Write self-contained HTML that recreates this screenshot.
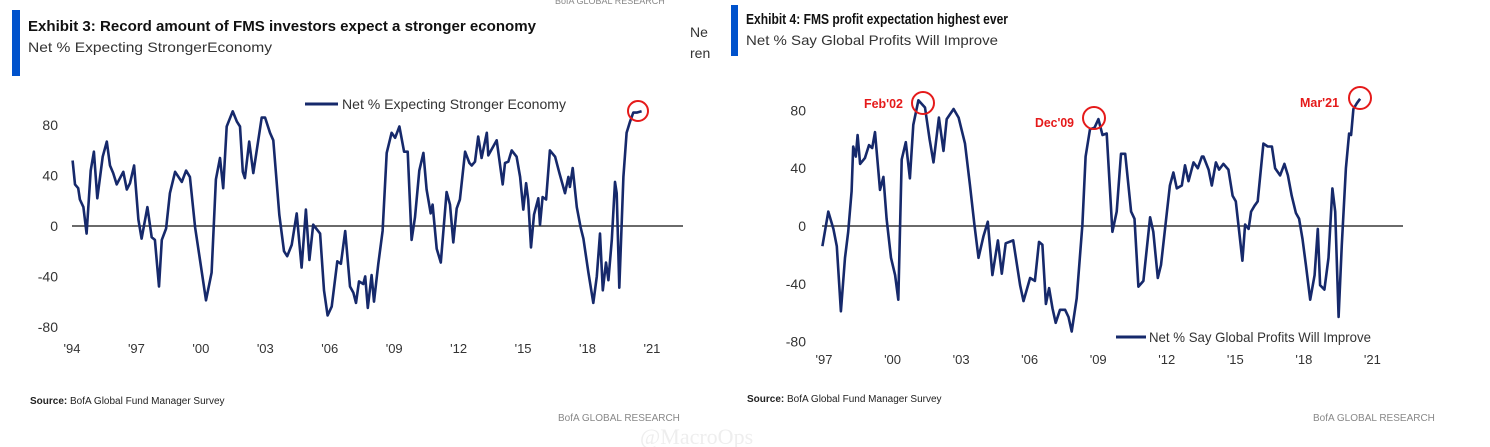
<!DOCTYPE html>
<html><head><meta charset="utf-8">
<style>
html,body{margin:0;padding:0;background:#fff;}
svg{display:block;font-family:"Liberation Sans Narrow","Liberation Sans",sans-serif;}
</style></head>
<body>
<svg id="root" width="1490" height="447" viewBox="0 0 1490 447" xmlns="http://www.w3.org/2000/svg">
  <text x="555" y="4" font-size="9" fill="#888">BofA GLOBAL RESEARCH</text>
  <rect x="12" y="10" width="8" height="66" fill="#0052cc"/>
  <text x="28" y="31" font-size="15" font-weight="bold" fill="#111" textLength="508" lengthAdjust="spacingAndGlyphs">Exhibit 3: Record amount of FMS investors expect a stronger economy</text>
  <text x="28" y="52" font-size="14" fill="#333" textLength="244" lengthAdjust="spacingAndGlyphs">Net % Expecting StrongerEconomy</text>
  <text x="690" y="37" font-size="14" fill="#333">Ne</text>
  <text x="690" y="58" font-size="14" fill="#333">ren</text>
  <rect x="731" y="5" width="7" height="51" fill="#0052cc"/>
  <text x="746" y="24" font-size="15" font-weight="bold" fill="#111" textLength="262" lengthAdjust="spacingAndGlyphs">Exhibit 4: FMS profit expectation highest ever</text>
  <text x="746" y="45" font-size="14" fill="#333" textLength="252" lengthAdjust="spacingAndGlyphs">Net % Say Global Profits Will Improve</text>

  <g id="leftChart"></g>
  <g id="rightChart"></g>

  <text x="30" y="404" font-size="10" fill="#222"><tspan font-weight="bold">Source:</tspan>  BofA Global Fund Manager Survey</text>
  <text x="558" y="421" font-size="10" fill="#888">BofA GLOBAL RESEARCH</text>
  <text x="747" y="402" font-size="10" fill="#222"><tspan font-weight="bold">Source:</tspan>  BofA Global Fund Manager Survey</text>
  <text x="1313" y="421" font-size="10" fill="#888">BofA GLOBAL RESEARCH</text>
  <text x="640" y="444" font-size="22" fill="#eee" font-family="Liberation Serif,serif">@MacroOps</text>
</svg>
<script>
const leftDates=[1994.03,1994.14,1994.29,1994.37,1994.53,1994.68,1994.87,1995.02,1995.18,1995.43,1995.62,1995.77,1995.92,1996.08,1996.39,1996.55,1996.70,1996.89,1997.09,1997.24,1997.51,1997.71,1997.86,1998.05,1998.18,1998.38,1998.56,1998.80,1999.11,1999.31,1999.49,1999.73,1999.96,2000.24,2000.50,2000.70,2000.89,2001.04,2001.20,2001.48,2001.67,2001.82,2001.95,2002.05,2002.25,2002.44,2002.83,2002.99,2003.22,2003.37,2003.65,2003.87,2004.02,2004.23,2004.46,2004.69,2004.89,2005.05,2005.23,2005.55,2005.73,2005.90,2006.09,2006.35,2006.52,2006.72,2006.94,2007.10,2007.22,2007.36,2007.56,2007.65,2007.77,2007.95,2008.06,2008.26,2008.46,2008.65,2008.88,2009.04,2009.24,2009.46,2009.63,2009.81,2009.97,2010.17,2010.36,2010.51,2010.70,2010.79,2010.98,2011.17,2011.44,2011.60,2011.75,2011.91,2012.06,2012.30,2012.50,2012.61,2012.76,2012.91,2013.07,2013.31,2013.38,2013.77,2014.05,2014.16,2014.31,2014.47,2014.70,2014.86,2015.01,2015.14,2015.24,2015.37,2015.51,2015.71,2015.79,2015.91,2016.07,2016.25,2016.49,2016.69,2016.95,2017.11,2017.18,2017.31,2017.50,2017.68,2017.81,2018.04,2018.27,2018.43,2018.58,2018.71,2018.86,2018.97,2019.13,2019.28,2019.36,2019.48,2019.67,2019.82,2019.98,2020.13,2020.29,2020.52];
const leftValues=[52,33,30,21,15,-6,44,59,22,55,67,48,42,33,43,29,34,48,5,-10,15,-9,-11,-48,-11,-2,26,43,35,44,39,-1,-27,-59,-37,37,54,30,79,91,83,79,43,38,67,42,86,86,74,68,9,-20,-24,-15,10,-33,13,-27,1,-6,-51,-71,-64,-28,-30,-4,-48,-53,-61,-44,-46,-40,-65,-39,-60,-30,-4,58,74,70,79,59,59,-11,7,44,58,29,10,17,-18,-29,27,17,-13,14,21,59,50,48,51,71,54,74,56,68,33,50,51,60,55,39,13,34,21,-17,9,22,1,23,21,60,55,42,26,39,31,46,15,-1,-10,-37,-61,-40,-6,-51,-29,-43,-11,35,26,-49,39,74,83,90,90,91];
const leftTicksY=[80,40,0,-40,-80];
const leftTicksX=["'94","'97","'00","'03","'06","'09","'12","'15","'18","'21"];
const leftTickYears=[1994,1997,2000,2003,2006,2009,2012,2015,2018,2021];

const rightDates=[1996.93,1997.19,1997.41,1997.56,1997.74,1997.92,1998.06,1998.21,1998.28,1998.39,1998.47,1998.58,1998.79,1998.97,1999.11,1999.23,1999.45,1999.60,1999.74,1999.93,2000.11,2000.25,2000.40,2000.58,2000.76,2000.91,2001.13,2001.42,2001.62,2001.79,2002.03,2002.23,2002.37,2002.67,2002.89,2003.17,2003.39,2003.58,2003.76,2003.98,2004.17,2004.37,2004.61,2004.78,2004.95,2005.28,2005.58,2005.73,2006.02,2006.23,2006.41,2006.56,2006.71,2006.85,2007.00,2007.14,2007.33,2007.55,2007.70,2007.84,2008.06,2008.31,2008.45,2008.64,2008.84,2009.01,2009.19,2009.37,2009.62,2009.81,2010.00,2010.18,2010.44,2010.59,2010.76,2010.98,2011.27,2011.41,2011.61,2011.75,2012.00,2012.14,2012.29,2012.44,2012.66,2012.80,2012.95,2013.17,2013.36,2013.54,2013.61,2013.83,2013.97,2014.15,2014.29,2014.48,2014.70,2014.88,2015.02,2015.17,2015.31,2015.43,2015.58,2015.69,2015.84,2015.98,2016.23,2016.42,2016.60,2016.74,2016.96,2017.15,2017.30,2017.47,2017.65,2017.79,2017.94,2018.09,2018.28,2018.47,2018.61,2018.71,2018.90,2019.08,2019.25,2019.37,2019.52,2019.66,2019.84,2019.98,2020.07,2020.17,2020.32,2020.46];
const rightValues=[-14,10,-2,-14,-59,-22,-4,24,55,48,63,43,47,56,54,65,25,34,5,-22,-34,-51,46,58,33,70,87,82,60,44,75,52,74,81,75,57,28,1,-22,-7,3,-34,-10,-33,-12,-10,-41,-52,-36,-38,-11,-13,-54,-43,-57,-67,-58,-58,-63,-73,-50,1,48,67,68,74,63,64,-4,10,50,50,10,5,-42,-38,6,-4,-36,-27,9,28,37,26,28,42,31,44,40,48,48,39,28,44,39,43,39,21,17,-4,-24,1,-2,10,14,17,57,55,55,40,35,43,35,21,9,5,-9,-27,-51,-34,-2,-41,-44,-22,26,10,-63,-13,40,64,63,81,85,88];
const rightTicksY=[80,40,0,-40,-80];
const rightTicksX=["'97","'00","'03","'06","'09","'12","'15","'18","'21"];
const rightTickYears=[1997,2000,2003,2006,2009,2012,2015,2018,2021];

const NS="http://www.w3.org/2000/svg";
function mk(parent,tag,attrs,text){const e=document.createElementNS(NS,tag);for(const k in attrs)e.setAttribute(k,attrs[k]);if(text!==undefined)e.textContent=text;parent.appendChild(e);return e;}

function draw(g,cfg,dates,values,ticksY,ticksX,tickYears){
  const xs=y=>cfg.x0+(y-cfg.y0year)*cfg.pxYear;
  const ys=v=>cfg.zeroY-v*cfg.pxUnit;
  ticksY.forEach(v=>{
    const t=mk(g,'text',{x:cfg.yLabX,y:ys(v)+5,'font-size':14,fill:'#333','text-anchor':'end'},String(v));
    
    
  });
  ticksX.forEach((lab,i)=>{
    const t=mk(g,'text',{x:xs(tickYears[i]),y:cfg.xLabY,'font-size':13,fill:'#333','text-anchor':'middle'},lab);
    
    
  });
  const z=mk(g,'line',{x1:cfg.zx1,x2:cfg.zx2,y1:ys(0),y2:ys(0),stroke:'#111','stroke-width':1.2});
  
  
  const d=dates.map((t,i)=>(i?'L':'M')+xs(t).toFixed(1)+' '+ys(values[i]).toFixed(1)).join(' ');
  const p=mk(g,'path',{d:d,fill:'none',stroke:'#16296b','stroke-width':2.6,'stroke-linejoin':'round'});
  
  
}

const L=document.getElementById('leftChart');
draw(L,{x0:72,y0year:1994,pxYear:21.48,zeroY:226,pxUnit:1.26,yLabX:58,xLabY:353,zx1:72,zx2:683},leftDates,leftValues,leftTicksY,leftTicksX,leftTickYears);
let e;
e=mk(L,'line',{x1:305,x2:338,y1:104,y2:104,stroke:'#16296b','stroke-width':3});


e=mk(L,'text',{x:342,y:109,'font-size':14,fill:'#333',textLength:224,lengthAdjust:'spacingAndGlyphs'},'Net % Expecting Stronger Economy');


e=mk(L,'circle',{cx:638,cy:111,r:10,fill:'none',stroke:'#e51a1a','stroke-width':2});



const R=document.getElementById('rightChart');
draw(R,{x0:824,y0year:1997,pxYear:22.85,zeroY:226,pxUnit:1.445,yLabX:806,xLabY:364,zx1:822,zx2:1403},rightDates,rightValues,rightTicksY,rightTicksX,rightTickYears);
e=mk(R,'line',{x1:1116,x2:1146,y1:337,y2:337,stroke:'#16296b','stroke-width':3});


e=mk(R,'text',{x:1149,y:342,'font-size':14,fill:'#333',textLength:222,lengthAdjust:'spacingAndGlyphs'},'Net % Say Global Profits Will Improve');


[[923,103,864,108,"Feb'02"],[1094,118,1035,127,"Dec'09"],[1360,98,1300,107,"Mar'21"]].forEach(a=>{
  const c=mk(R,'circle',{cx:a[0],cy:a[1],r:11,fill:'none',stroke:'#e51a1a','stroke-width':2});
  
  
  const t=mk(R,'text',{x:a[2],y:a[3],'font-size':13,'font-weight':'bold',fill:'#e51a1a',textLength:39,lengthAdjust:'spacingAndGlyphs'},a[4]);
  
  
});
</script>
</body></html>
